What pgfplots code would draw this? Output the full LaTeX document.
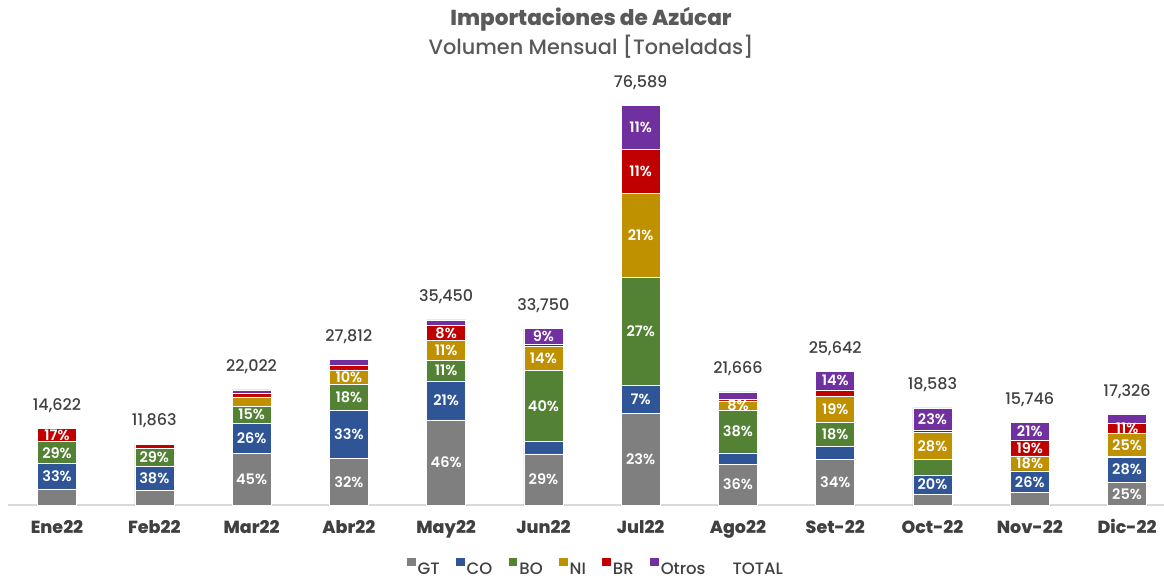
\documentclass[border=0pt]{standalone}
\usepackage{fontspec}
\setmainfont{Poppins}
\usepackage{pgfplots}
\usepackage{pgfplotstable}
\pgfplotsset{compat=1.18}
\IfFontExistsTF{Poppins SemiBold}{\newfontfamily\psemi{Poppins SemiBold}}{\newcommand\psemi{\bfseries}}
\IfFontExistsTF{Poppins Medium}{\newfontfamily\pmed{Poppins Medium}}{\newcommand\pmed{}}
\IfFontExistsTF{Poppins ExtraBold}{\newfontfamily\pxb{Poppins ExtraBold}}{\newcommand\pxb{\bfseries}}
\definecolor{cgt}{HTML}{7F7F7F}
\definecolor{cco}{HTML}{2F5597}
\definecolor{cbo}{HTML}{548235}
\definecolor{cni}{HTML}{BF9000}
\definecolor{cbr}{HTML}{C00000}
\definecolor{cot}{HTML}{7030A0}
\definecolor{ctitle}{HTML}{595959}
\definecolor{ctick}{HTML}{404040}
\definecolor{ctot}{HTML}{404040}
\definecolor{cline}{HTML}{D9D9D9}

% values in thousands of tonnes
\pgfplotstableread{
x  gt     gtl     co     col     bo     bol     ni     nil     br     brl     ot     otl     tot     totl
0  3.071  {}      4.825  {33\%}  4.240  {29\%}  0      {}      2.486  {17\%}  0      {}      14.622  {14,622}
1  2.847  {}      4.508  {38\%}  3.440  {29\%}  0      {}      0.830  {}      0.238  {}      11.863  {11,863}
2  9.910  {45\%}  5.726  {26\%}  3.303  {15\%}  1.762  {}      0.771  {}      0.550  {}      22.022  {22,022}
3  8.900  {32\%}  9.178  {33\%}  5.006  {18\%}  2.781  {10\%}  0.973  {}      0.974  {}      27.812  {27,812}
4  16.307 {46\%}  7.445  {21\%}  3.900  {11\%}  3.900  {11\%}  2.836  {8\%}   1.062  {}      35.450  {35,450}
5  9.788  {29\%}  2.430  {}      13.500 {40\%}  4.725  {14\%}  0.270  {}      3.037  {9\%}   33.750  {33,750}
6  17.615 {23\%}  5.361  {7\%}   20.679 {27\%}  16.084 {21\%}  8.425  {11\%}  8.425  {11\%}  76.589  {76,589}
7  7.800  {36\%}  2.167  {}      8.233  {38\%}  1.733  {8\%}   0.260  {}      1.473  {}      21.666  {21,666}
8  8.718  {34\%}  2.564  {}      4.616  {18\%}  4.872  {19\%}  1.282  {}      3.590  {14\%}  25.642  {25,642}
9  2.044  {}      3.717  {20\%}  2.973  {}      5.203  {28\%}  0.372  {}      4.274  {23\%}  18.583  {18,583}
10 2.362  {}      4.173  {26\%}  0      {}      2.866  {18\%}  3.007  {19\%}  3.338  {21\%}  15.746  {15,746}
11 4.332  {25\%}  4.851  {28\%}  0.173  {}      4.332  {25\%}  1.906  {11\%}  1.732  {}      17.326  {17,326}
}\data

\begin{document}
\begin{tikzpicture}
\useasboundingbox (0,0) rectangle (1164pt,579pt);
\node[font=\pxb\fontsize{21.6}{24}\selectfont, text=ctitle] at (591pt,560pt) {Importaciones de Azúcar};
\node[font=\pmed\fontsize{20.8}{23}\selectfont, text=ctitle] at (591pt,532pt) {Volumen Mensual [Toneladas]};
\begin{axis}[
  at={(8.4pt,74pt)}, anchor=south west,
  scale only axis, width=1155.6pt, height=417.8pt,
  xmin=-0.5, xmax=11.38, ymin=0, ymax=80,
  ybar stacked, bar width=39pt,
  axis x line=bottom, axis y line=none,
  x axis line style={-, draw=cline, line width=1.2pt},
  ytick=\empty,
  xtick={0,...,11},
  xticklabels={Ene22,Feb22,Mar22,Abr22,May22,Jun22,Jul22,Ago22,Set-22,Oct-22,Nov-22,Dic-22},
  major tick length=0pt,
  xticklabel style={font=\pxb\fontsize{17.5}{20}\selectfont, text=ctick, anchor=base, yshift=-28pt},
  clip=false,
  point meta=explicit symbolic,
  nodes near coords,
  visualization depends on={rawy \as \segv},
  every node near coord/.append style={font=\psemi\fontsize{14.5}{16}\selectfont, text=white, anchor=center, inner sep=0pt},
  legend columns=-1,
  legend style={at={(0.5085,-0.1508)}, anchor=center, draw=none, fill=none,
    font=\pmed\fontsize{16.5}{19}\selectfont\color{ctick},
    /tikz/every even column/.append style={column sep=14.5pt}},
  legend image code/.code={\path[#1,draw=none] (0pt,3pt) rectangle (8.5pt,11.5pt);},
]
\addplot[fill=cgt, draw=white, line width=0.6pt] table[x=x, y=gt, meta=gtl]{\data};
\addlegendentry{GT}
\addplot[fill=cco, draw=white, line width=0.6pt] table[x=x, y=co, meta=col]{\data};
\addlegendentry{CO}
\addplot[fill=cbo, draw=white, line width=0.6pt] table[x=x, y=bo, meta=bol]{\data};
\addlegendentry{BO}
\addplot[fill=cni, draw=white, line width=0.6pt] table[x=x, y=ni, meta=nil]{\data};
\addlegendentry{NI}
\addplot[fill=cbr, draw=white, line width=0.6pt] table[x=x, y=br, meta=brl]{\data};
\addlegendentry{BR}
\addplot[fill=cot, draw=white, line width=0.6pt] table[x=x, y=ot, meta=otl]{\data};
\addlegendentry{Otros}
\addplot[stack plots=false, draw=none, fill=none,
  every node near coord/.append style={shift={(axis direction cs:0,\segv/2)}, font=\pmed\fontsize{16}{18}\selectfont, text=ctot, anchor=base, inner sep=0pt, yshift=18pt}]
  table[x=x, y=tot, meta=totl]{\data};
\addlegendentry{TOTAL}
\end{axis}
\end{tikzpicture}
\end{document}
